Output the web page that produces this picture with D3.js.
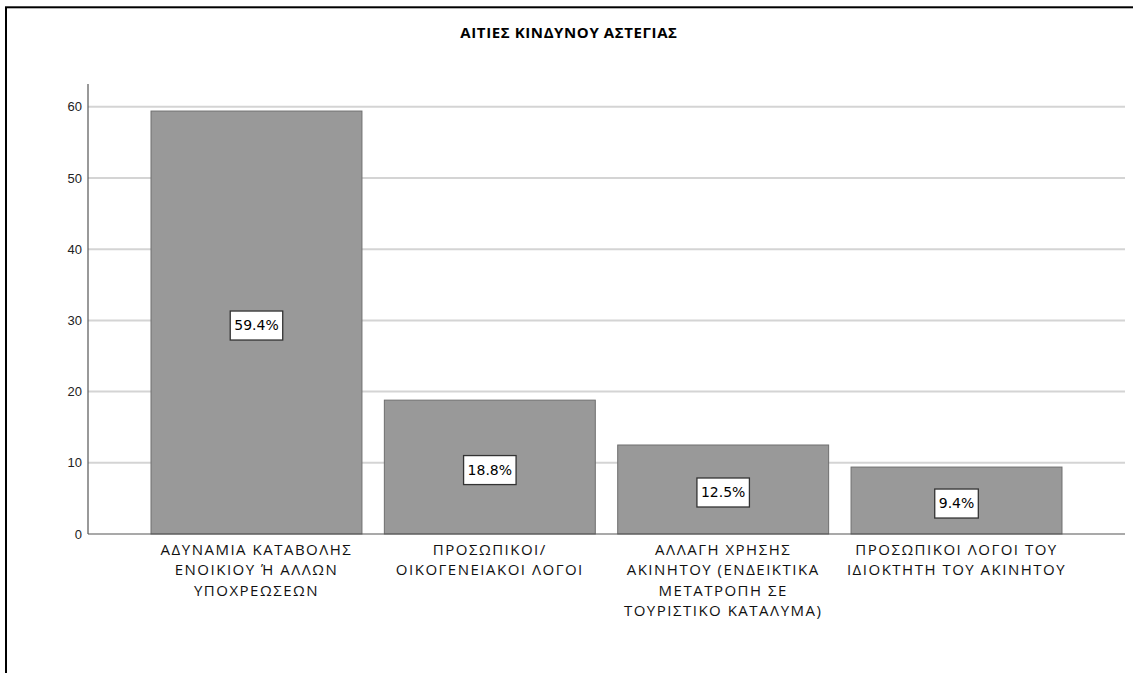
<!DOCTYPE html>
<html>
<head>
<meta charset="utf-8">
<script src="https://cdn.jsdelivr.net/npm/d3@7"></script>
<style>
  html, body { margin: 0; padding: 0; background: #fff; }
  svg { display: block; }
</style>
</head>
<body>
<svg id="chart" width="1133" height="673"></svg>
<script>
const title = "ΑΙΤΙΕΣ ΚΙΝΔΥΝΟΥ ΑΣΤΕΓΙΑΣ";
const categories = [
  "ΑΔΥΝΑΜΙΑ ΚΑΤΑΒΟΛΗΣ\nΕΝΟΙΚΙΟΥ Ή ΑΛΛΩΝ\nΥΠΟΧΡΕΩΣΕΩΝ",
  "ΠΡΟΣΩΠΙΚΟΙ/\nΟΙΚΟΓΕΝΕΙΑΚΟΙ ΛΟΓΟΙ",
  "ΑΛΛΑΓΗ ΧΡΗΣΗΣ\nΑΚΙΝΗΤΟΥ (ΕΝΔΕΙΚΤΙΚΑ\nΜΕΤΑΤΡΟΠΗ ΣΕ\nΤΟΥΡΙΣΤΙΚΟ ΚΑΤΑΛΥΜΑ)",
  "ΠΡΟΣΩΠΙΚΟΙ ΛΟΓΟΙ ΤΟΥ\nΙΔΙΟΚΤΗΤΗ ΤΟΥ ΑΚΙΝΗΤΟΥ"
];
const percentValues = [59.4, 18.8, 12.5, 9.4];
const yTicks = [0, 10, 20, 30, 40, 50, 60];
const yMax = 63.2;

const svg = d3.select("#chart");

// outer frame
svg.append("rect")
  .attr("x", 6).attr("y", 7.3)
  .attr("width", 1300).attr("height", 900)
  .attr("fill", "none").attr("stroke", "#000").attr("stroke-width", 2);

// title
svg.append("text")
  .attr("x", 569).attr("y", 38)
  .attr("text-anchor", "middle")
  .attr("font-family", "'Open Sans', 'Noto Sans', sans-serif")
  .attr("font-weight", "bold")
  .attr("font-size", 15)
  .attr("letter-spacing", 0.6)
  .attr("fill", "#000")
  .text(title);

const x0 = 88, x1 = 1125, yTop = 84, yBottom = 534;

const x = d3.scaleBand()
  .domain(d3.range(categories.length))
  .range([x0, x1])
  .paddingInner(0.096)
  .paddingOuter(0.27);

const y = d3.scaleLinear().domain([0, yMax]).range([yBottom, yTop]);

// gridlines
svg.append("g")
  .selectAll("line")
  .data(yTicks.filter(d => d > 0))
  .join("line")
  .attr("x1", x0).attr("x2", x1)
  .attr("y1", d => y(d)).attr("y2", d => y(d))
  .attr("stroke", "#d4d4d4").attr("stroke-width", 2);

// y axis
const yAxis = d3.axisLeft(y).tickValues(yTicks).tickSize(0).tickPadding(6).tickFormat(d3.format("d"));
const gy = svg.append("g").attr("transform", `translate(${x0},0)`).call(yAxis);
gy.select(".domain").remove();
gy.selectAll("text")
  .attr("font-family", "'Liberation Sans', Arial, sans-serif")
  .attr("font-size", 13)
  .attr("fill", "#222");
svg.append("line")
  .attr("x1", x0).attr("x2", x0).attr("y1", yTop).attr("y2", yBottom)
  .attr("stroke", "#555").attr("stroke-width", 1.2);

// bars
svg.append("g")
  .selectAll("rect")
  .data(percentValues)
  .join("rect")
  .attr("x", (d, i) => x(i))
  .attr("y", d => y(d))
  .attr("width", x.bandwidth())
  .attr("height", d => yBottom - y(d))
  .attr("fill", "#999999")
  .attr("stroke", "#6f6f6f")
  .attr("stroke-width", 1);

// x axis baseline
svg.append("line")
  .attr("x1", x0).attr("x2", x1).attr("y1", yBottom).attr("y2", yBottom)
  .attr("stroke", "#555").attr("stroke-width", 1.2);

// value labels
const lbl = svg.append("g").selectAll("g")
  .data(percentValues)
  .join("g")
  .attr("transform", (d, i) => `translate(${x(i) + x.bandwidth() / 2},${y(d / 2) + 3})`);
lbl.append("text")
  .attr("text-anchor", "middle")
  .attr("dy", "0.35em")
  .attr("font-family", "'DejaVu Sans', sans-serif")
  .attr("font-size", 14)
  .attr("fill", "#000")
  .text(d => d.toFixed(1) + "%")
  .each(function () {
    const b = this.getBBox();
    d3.select(this.parentNode).insert("rect", "text")
      .attr("x", b.x - 4).attr("y", -14.5)
      .attr("width", b.width + 8).attr("height", 29)
      .attr("fill", "#fff").attr("stroke", "#333").attr("stroke-width", 1.3);
  });

// category labels
const cat = svg.append("g").selectAll("text")
  .data(categories)
  .join("text")
  .attr("text-anchor", "middle")
  .attr("font-family", "'Open Sans', 'Noto Sans', sans-serif")
  .attr("font-size", 15)
  .attr("letter-spacing", 1.5)
  .attr("fill", "#111")
  .attr("transform", (d, i) => `translate(${x(i) + x.bandwidth() / 2},${yBottom})`);
cat.selectAll("tspan")
  .data(d => d.split("\n"))
  .join("tspan")
  .attr("x", 0)
  .attr("y", (d, j) => 21 + j * 20.3)
  .text(d => d);
</script>
</body>
</html>
